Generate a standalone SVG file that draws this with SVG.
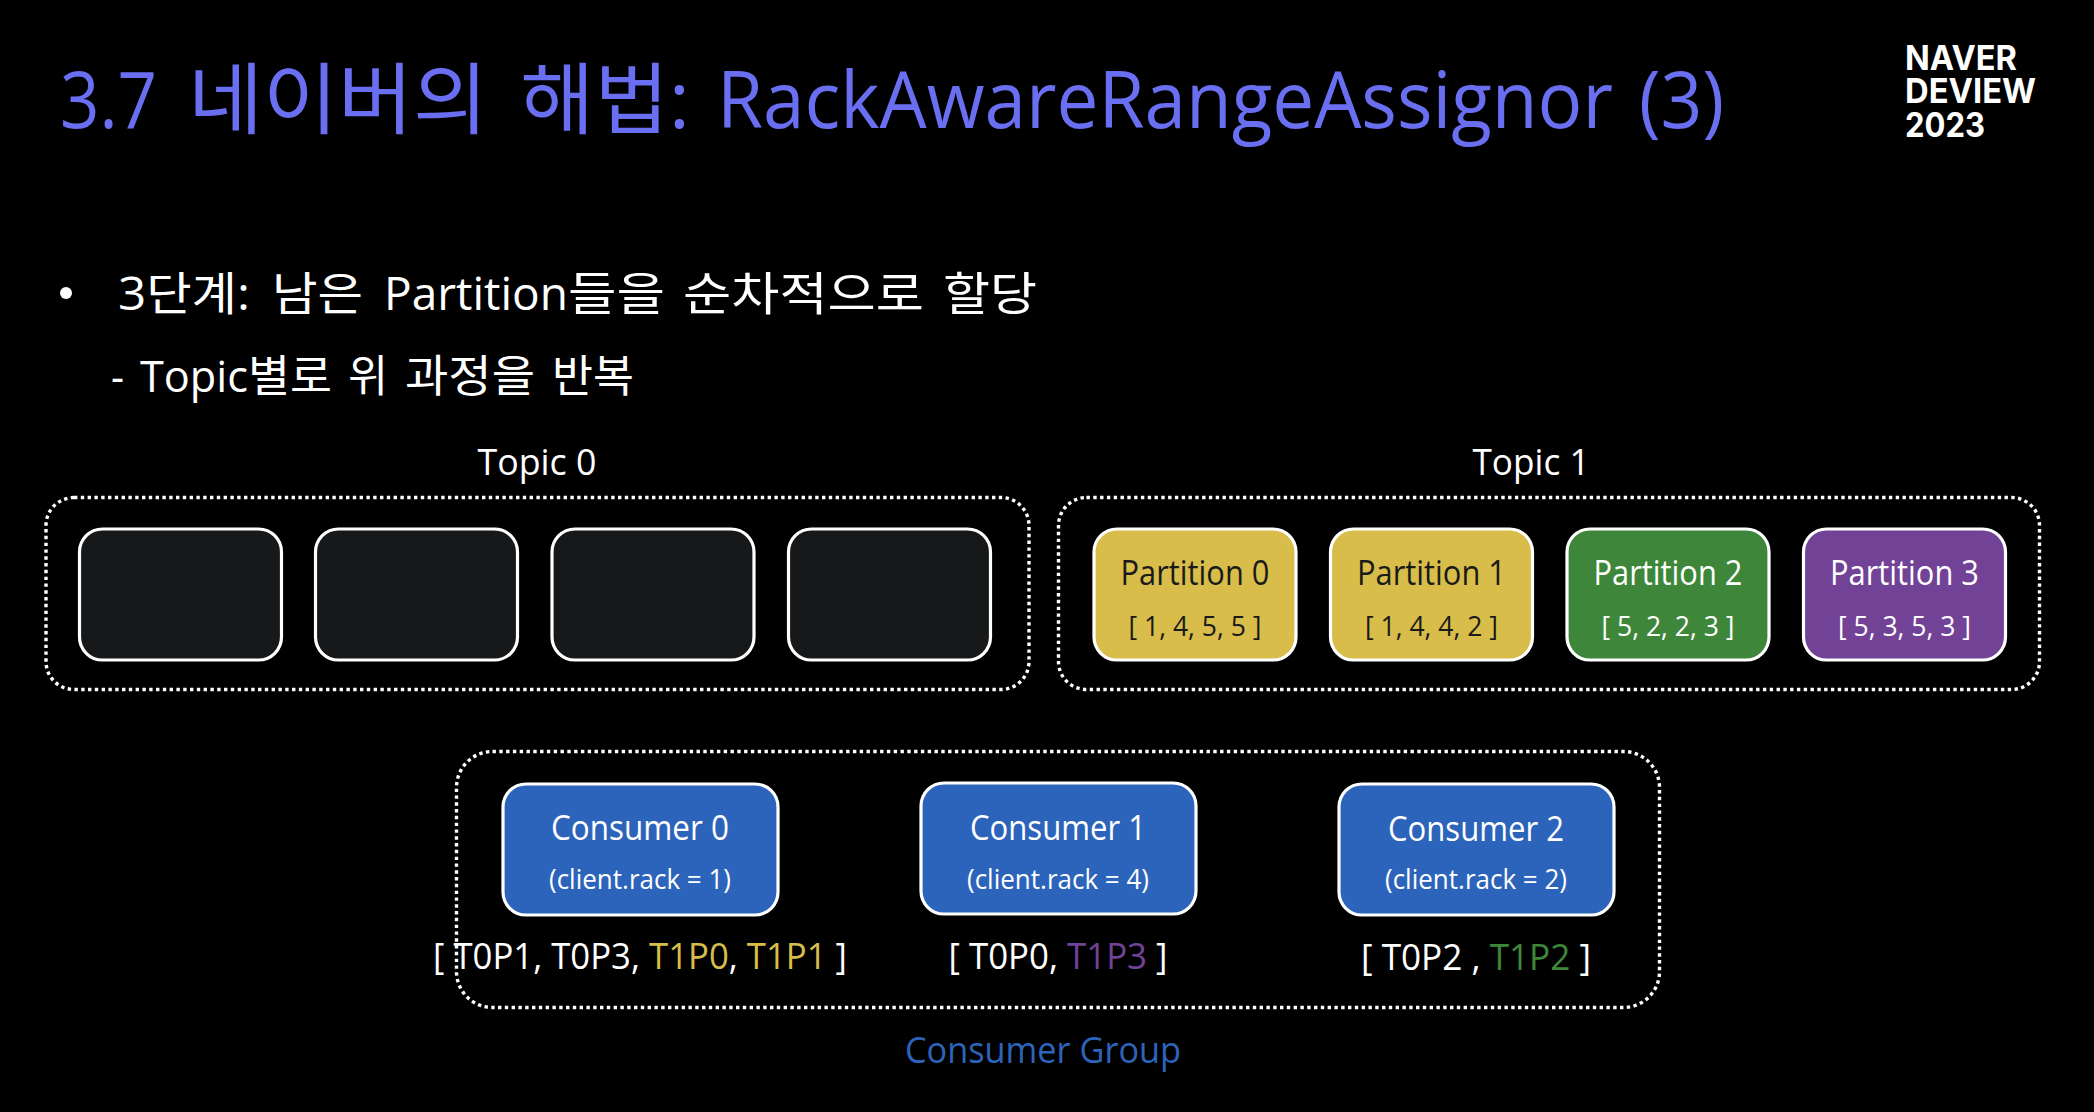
<svg xmlns="http://www.w3.org/2000/svg" width="2094" height="1112" viewBox="0 0 2094 1112">
<style>
text{font-family:"Open Sans","Noto Sans CJK KR","Noto Sans",sans-serif;fill:#fff}
.m{text-anchor:middle}
.group{fill:none;stroke:#fff;stroke-width:3.4;stroke-dasharray:3.4 3.4}
.box{stroke:#fff;stroke-width:3.2}
.empty{fill:#17181a}.yellow{fill:#d8bd4a}.green{fill:#3e873a}.purple{fill:#724296}.blue{fill:#2d64bb}
.t1{font-size:35px}.t2{font-size:28px}.c1{font-size:35px}.c2{font-size:27px}
.dark{fill:#1a1a1a}
.topic{font-size:36px}
.assign{font-size:36px}
.logo{font-family:"Inter","Liberation Sans",sans-serif;font-weight:700;font-size:34px}
</style>
<rect width="2094" height="1112" fill="#000"/>
<text id="title" y="128" font-size="78" style="fill:#6a6ef0"><tspan x="60" textLength="97" lengthAdjust="spacingAndGlyphs">3.7</tspan> <tspan x="188" textLength="300" lengthAdjust="spacingAndGlyphs">네이버의</tspan> <tspan x="520" textLength="170" lengthAdjust="spacingAndGlyphs">해법:</tspan> <tspan x="717" textLength="896" lengthAdjust="spacingAndGlyphs">RackAwareRangeAssignor</tspan> <tspan x="1639" textLength="85" lengthAdjust="spacingAndGlyphs">(3)</tspan></text>
<g id="logo">
<text class="logo" x="1905" y="70" textLength="112" lengthAdjust="spacingAndGlyphs">NAVER</text>
<text class="logo" x="1905" y="103" textLength="131" lengthAdjust="spacingAndGlyphs">DEVIEW</text>
<text class="logo" x="1905" y="137" textLength="80" lengthAdjust="spacingAndGlyphs">2023</text>
</g>
<g id="bullets">
<circle cx="66" cy="293" r="6" fill="#fff"/>
<text y="310" font-size="46"><tspan x="118" textLength="132" lengthAdjust="spacingAndGlyphs">3단계:</tspan> <tspan x="272" textLength="91" lengthAdjust="spacingAndGlyphs">남은</tspan> <tspan x="384" textLength="184" lengthAdjust="spacingAndGlyphs">Partition</tspan><tspan x="568" textLength="97" lengthAdjust="spacingAndGlyphs">들을</tspan> <tspan x="683" textLength="241" lengthAdjust="spacingAndGlyphs">순차적으로</tspan> <tspan x="943" textLength="94" lengthAdjust="spacingAndGlyphs">할당</tspan></text>
<text y="392" font-size="44"><tspan x="111" textLength="13" lengthAdjust="spacingAndGlyphs">-</tspan> <tspan x="140" textLength="108" lengthAdjust="spacingAndGlyphs">Topic</tspan><tspan x="248" textLength="84" lengthAdjust="spacingAndGlyphs">별로</tspan> <tspan x="348" textLength="40" lengthAdjust="spacingAndGlyphs">위</tspan> <tspan x="405" textLength="130" lengthAdjust="spacingAndGlyphs">과정을</tspan> <tspan x="552" textLength="82" lengthAdjust="spacingAndGlyphs">반복</tspan></text>
</g>
<g id="topic0">
<text class="m topic" x="537" y="475" textLength="119" lengthAdjust="spacingAndGlyphs">Topic 0</text>
<rect class="group" x="46" y="497.500" width="983" height="192" rx="28"/>
<g id="t0p0"><rect class="box empty" x="79.500" y="529" width="202" height="131" rx="23"/></g>
<g id="t0p1"><rect class="box empty" x="315.500" y="529" width="202" height="131" rx="23"/></g>
<g id="t0p2"><rect class="box empty" x="552" y="529" width="202" height="131" rx="23"/></g>
<g id="t0p3"><rect class="box empty" x="788.500" y="529" width="202" height="131" rx="23"/></g>
</g>
<g id="topic1">
<text class="m topic" x="1531" y="475" textLength="117" lengthAdjust="spacingAndGlyphs">Topic 1</text>
<rect class="group" x="1058.500" y="497.500" width="981" height="192" rx="28"/>
<g id="t1p0"><rect class="box yellow" x="1094" y="529" width="202" height="131" rx="23"/>
<text class="m t1 dark" x="1195" y="585" textLength="149" lengthAdjust="spacingAndGlyphs">Partition 0</text><text class="m t2 dark" x="1195" y="636" textLength="133" lengthAdjust="spacingAndGlyphs">[ 1, 4, 5, 5 ]</text></g>
<g id="t1p1"><rect class="box yellow" x="1330.500" y="529" width="202" height="131" rx="23"/>
<text class="m t1 dark" x="1431.500" y="585" textLength="149" lengthAdjust="spacingAndGlyphs">Partition 1</text><text class="m t2 dark" x="1431.500" y="636" textLength="133" lengthAdjust="spacingAndGlyphs">[ 1, 4, 4, 2 ]</text></g>
<g id="t1p2"><rect class="box green" x="1567" y="529" width="202" height="131" rx="23"/>
<text class="m t1" x="1668" y="585" textLength="149" lengthAdjust="spacingAndGlyphs">Partition 2</text><text class="m t2" x="1668" y="636" textLength="133" lengthAdjust="spacingAndGlyphs">[ 5, 2, 2, 3 ]</text></g>
<g id="t1p3"><rect class="box purple" x="1803.500" y="529" width="202" height="131" rx="23"/>
<text class="m t1" x="1904.500" y="585" textLength="149" lengthAdjust="spacingAndGlyphs">Partition 3</text><text class="m t2" x="1904.500" y="636" textLength="133" lengthAdjust="spacingAndGlyphs">[ 5, 3, 5, 3 ]</text></g>
</g>
<g id="consumer-group">
<rect class="group" x="456.500" y="751.500" width="1203" height="256" rx="36"/>
<text class="m" x="1043" y="1063" font-size="36" style="fill:#2d64bb" textLength="276" lengthAdjust="spacingAndGlyphs">Consumer Group</text>
</g>
<g id="consumer0"><rect class="box blue" x="503" y="784" width="275" height="131" rx="23"/>
<text class="m c1" x="640" y="840" textLength="178" lengthAdjust="spacingAndGlyphs">Consumer 0</text><text class="m c2" x="640" y="889" textLength="182" lengthAdjust="spacingAndGlyphs">(client.rack = 1)</text>
<text class="m assign" x="640" y="969" textLength="414" lengthAdjust="spacingAndGlyphs">[ T0P1, T0P3, <tspan style="fill:#d8bd4a">T1P0</tspan>, <tspan style="fill:#d8bd4a">T1P1</tspan> ]</text></g>
<g id="consumer1"><rect class="box blue" x="921" y="783" width="275" height="131" rx="23"/>
<text class="m c1" x="1058" y="840" textLength="176" lengthAdjust="spacingAndGlyphs">Consumer 1</text><text class="m c2" x="1058" y="889" textLength="182" lengthAdjust="spacingAndGlyphs">(client.rack = 4)</text>
<text class="m assign" x="1058" y="969" textLength="219" lengthAdjust="spacingAndGlyphs">[ T0P0, <tspan style="fill:#724296">T1P3</tspan> ]</text></g>
<g id="consumer2"><rect class="box blue" x="1339" y="784" width="275" height="131" rx="23"/>
<text class="m c1" x="1476" y="841" textLength="176" lengthAdjust="spacingAndGlyphs">Consumer 2</text><text class="m c2" x="1476" y="889" textLength="182" lengthAdjust="spacingAndGlyphs">(client.rack = 2)</text>
<text class="m assign" x="1476" y="970" textLength="230" lengthAdjust="spacingAndGlyphs">[ T0P2 , <tspan style="fill:#3e873a">T1P2</tspan> ]</text></g>
</svg>
